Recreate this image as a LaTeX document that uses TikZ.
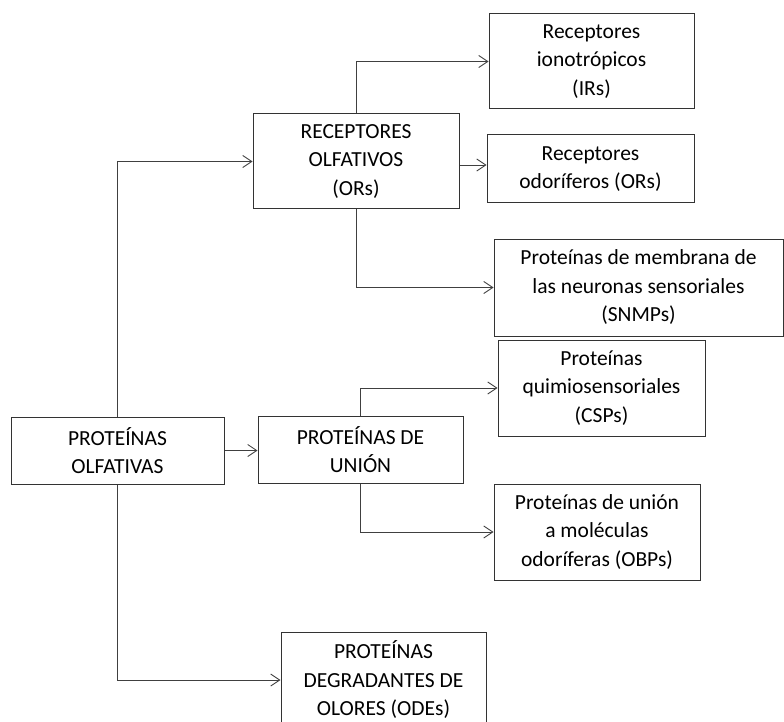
\documentclass[tikz,border=0pt]{standalone}
\usepackage{fontspec}
\setmainfont{Carlito}
\usetikzlibrary{arrows.meta}
\begin{document}
\begin{tikzpicture}[x=1pt,y=-1pt,
  box/.style={draw=black!80,line width=1pt,align=center,inner sep=0pt,
    font=\fontsize{21.5}{28.5}\selectfont,text=black},
  conn/.style={draw=black!75,line width=0.9pt,-{Straight Barb[length=9pt,width=12pt]}}]
\useasboundingbox (0,0) rectangle (784,722);
\clip (0,0) rectangle (784,722);
\node[box,minimum width=213pt,minimum height=67pt] (olf) at (117.5,450.5) {PROTEÍNAS\\OLFATIVAS};
\node[box,minimum width=206pt,minimum height=95pt] (rec) at (356,161.5) {RECEPTORES\\OLFATIVOS\\(ORs)};
\node[box,minimum width=205pt,minimum height=67pt] (uni) at (360.5,449.5) {PROTEÍNAS DE\\UNIÓN};
\node[box,minimum width=205pt,minimum height=95pt] (ion) at (591.5,61.5) {Receptores\\ionotrópicos\\(IRs)};
\node[box,minimum width=207pt,minimum height=68pt] (odo) at (590.5,169) {Receptores\\odoríferos (ORs)};
\node[box,minimum width=289pt,minimum height=97pt] (snm) at (638.5,287.5) {Proteínas de membrana de\\las neuronas sensoriales\\(SNMPs)};
\node[box,minimum width=207pt,minimum height=96pt] (csp) at (601.5,388) {Proteínas\\quimiosensoriales\\(CSPs)};
\node[box,minimum width=206pt,minimum height=96pt] (obp) at (597,532) {Proteínas de unión\\a moléculas\\odoríferas (OBPs)};
\node[box,minimum width=205pt,minimum height=96pt] (ode) at (383.5,680) {PROTEÍNAS\\DEGRADANTES DE\\OLORES (ODEs)};
\draw[conn] (olf.north) |- (rec.west);
\draw[conn] (olf.south) |- (ode.west);
\draw[conn] (olf.east) -- (olf.east -| uni.west);
\draw[conn] (rec.north) |- (ion.west);
\draw[conn] ([yshift=-3.5pt]rec.east) -- ([yshift=-3.5pt]rec.east -| odo.west);
\draw[conn] (rec.south) |- (snm.west);
\draw[conn] (uni.north) |- (csp.west);
\draw[conn] (uni.south) |- (obp.west);
\end{tikzpicture}
\end{document}
